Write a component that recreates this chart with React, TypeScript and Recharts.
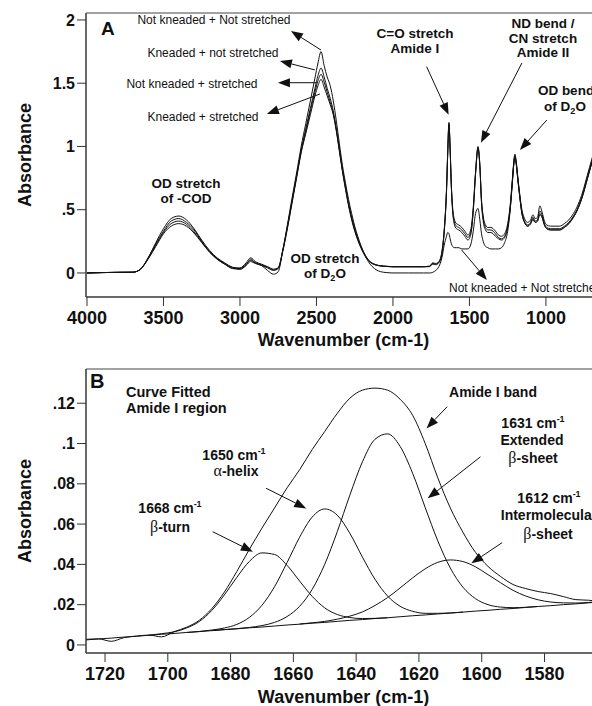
import React from "react";
import { LineChart, Line, XAxis, YAxis, ReferenceLine, ReferenceArea } from "recharts";

const FONT = "'Liberation Sans', Arial, Helvetica, sans-serif";
const GREEK = "'Liberation Serif', 'DejaVu Serif', serif";
const INK = "#111";

// ---- panel A: full spectra (cm-1, descending) ----
const wavenumbers = [
  4000, 3900, 3800, 3700, 3650, 3600, 3550, 3500, 3450, 3400, 3350, 3300, 3250, 3200, 3150, 3100, 3050,
  3000, 2960, 2930, 2900, 2860, 2820, 2780, 2750,
  2720, 2690, 2660, 2630, 2600, 2570, 2540, 2510, 2490, 2470, 2450, 2430, 2410, 2390, 2370, 2350, 2330, 2310, 2290, 2270,
  2250, 2230, 2210, 2190, 2170, 2150, 2130, 2110, 2080, 2040, 2000,
  1900, 1800, 1760, 1740, 1720, 1700, 1680, 1665, 1650, 1642,
  1634, 1626, 1618, 1610, 1600, 1585, 1570, 1550, 1530, 1510,
  1490, 1475, 1460, 1444, 1432, 1421, 1410, 1395, 1380, 1360,
  1345, 1330, 1310, 1290, 1270, 1250, 1235, 1220, 1210, 1203,
  1195, 1183, 1170, 1157, 1140, 1120, 1100, 1085, 1070, 1055,
  1040, 1025, 1010, 995, 970, 940, 910, 880, 850, 820,
  790, 760, 730, 700, 670, 640,
];

const notKneadedNotStretched = [
  0, 0.003, 0.005, 0.006, 0.03, 0.12, 0.24, 0.35, 0.43, 0.45, 0.42, 0.35, 0.26, 0.18, 0.12, 0.08, 0.045,
  0.03, 0.06, 0.11, 0.08, 0.06, 0.02, -0.01, 0.01,
  0.18, 0.38, 0.59, 0.79, 1.0, 1.18, 1.36, 1.54, 1.66, 1.75, 1.64, 1.55, 1.48, 1.36, 1.2, 1.02, 0.85, 0.71, 0.58, 0.47,
  0.37, 0.29, 0.22, 0.16, 0.11, 0.07, 0.045, 0.025, 0.01, 0.003, 0,
  0, 0, 0, 0.005, 0.02, 0.05, 0.12, 0.22, 0.29, 0.32,
  0.31, 0.27, 0.23, 0.21, 0.2, 0.2, 0.2, 0.19, 0.19, 0.19,
  0.23, 0.33, 0.47, 0.51, 0.42, 0.31, 0.25, 0.21, 0.2, 0.19,
  0.19, 0.19, 0.19, 0.2, 0.24, 0.33, 0.48, 0.7, 0.86, 0.92,
  0.87, 0.73, 0.59, 0.47, 0.4, 0.37, 0.39, 0.42, 0.4, 0.41,
  0.47, 0.44, 0.38, 0.35, 0.34, 0.34, 0.34, 0.36, 0.39, 0.44,
  0.51, 0.61, 0.74, 0.87, 0.99, 1.09,
];

const kneadedNotStretched = [
  0, 0.003, 0.005, 0.006, 0.03, 0.12, 0.23, 0.33, 0.41, 0.43, 0.4, 0.34, 0.25, 0.17, 0.115, 0.075, 0.045,
  0.04, 0.08, 0.12, 0.09, 0.07, 0.05, 0.03, 0.04,
  0.18, 0.37, 0.57, 0.77, 0.97, 1.14, 1.3, 1.46, 1.56, 1.62, 1.55, 1.46, 1.38, 1.28, 1.14, 0.98, 0.82, 0.68, 0.55, 0.44,
  0.35, 0.27, 0.21, 0.16, 0.12, 0.09, 0.075, 0.065, 0.057, 0.053, 0.05,
  0.05, 0.05, 0.055, 0.08, 0.075, 0.09, 0.17, 0.34, 0.66, 0.96,
  1.19, 0.98, 0.69, 0.52, 0.43, 0.39, 0.38, 0.36, 0.33, 0.3,
  0.35, 0.52, 0.8, 1.0, 0.86, 0.58, 0.45, 0.38, 0.36, 0.36,
  0.35, 0.33, 0.3, 0.29, 0.31, 0.39, 0.52, 0.73, 0.88, 0.94,
  0.89, 0.75, 0.61, 0.5, 0.43, 0.4, 0.42, 0.46, 0.43, 0.44,
  0.53, 0.48, 0.41, 0.38, 0.37, 0.37, 0.37, 0.39, 0.42, 0.47,
  0.54, 0.64, 0.77, 0.9, 1.02, 1.12,
];

const notKneadedStretched = [
  0, 0.003, 0.005, 0.006, 0.03, 0.115, 0.22, 0.32, 0.39, 0.41, 0.385, 0.325, 0.245, 0.17, 0.11, 0.07, 0.04,
  0.035, 0.07, 0.1, 0.08, 0.065, 0.045, 0.025, 0.04,
  0.18, 0.36, 0.56, 0.76, 0.96, 1.12, 1.28, 1.43, 1.52, 1.57, 1.51, 1.43, 1.35, 1.26, 1.13, 0.97, 0.81, 0.67, 0.54, 0.43,
  0.34, 0.265, 0.205, 0.155, 0.115, 0.088, 0.072, 0.063, 0.056, 0.052, 0.05,
  0.05, 0.05, 0.052, 0.075, 0.07, 0.085, 0.16, 0.33, 0.65, 0.95,
  1.18, 0.97, 0.68, 0.5, 0.41, 0.37, 0.36, 0.34, 0.31, 0.28,
  0.33, 0.5, 0.79, 0.99, 0.85, 0.56, 0.43, 0.36, 0.34, 0.34,
  0.33, 0.31, 0.28, 0.27, 0.29, 0.37, 0.5, 0.72, 0.87, 0.93,
  0.88, 0.74, 0.6, 0.48, 0.41, 0.38, 0.4, 0.44, 0.41, 0.42,
  0.49, 0.46, 0.39, 0.36, 0.35, 0.35, 0.35, 0.37, 0.4, 0.45,
  0.52, 0.62, 0.75, 0.88, 1.0, 1.1,
];

const kneadedStretched = [
  0, 0.003, 0.005, 0.006, 0.03, 0.11, 0.21, 0.31, 0.37, 0.39, 0.37, 0.315, 0.24, 0.165, 0.11, 0.07, 0.035,
  0.03, 0.06, 0.09, 0.075, 0.06, 0.04, 0.02, 0.035,
  0.17, 0.35, 0.55, 0.75, 0.95, 1.1, 1.25, 1.4, 1.48, 1.53, 1.47, 1.4, 1.33, 1.25, 1.12, 0.96, 0.8, 0.66, 0.53, 0.42,
  0.33, 0.26, 0.2, 0.15, 0.11, 0.085, 0.07, 0.062, 0.055, 0.051, 0.048,
  0.048, 0.048, 0.05, 0.07, 0.065, 0.08, 0.15, 0.32, 0.64, 0.94,
  1.17, 0.96, 0.67, 0.49, 0.39, 0.35, 0.34, 0.32, 0.29, 0.26,
  0.31, 0.49, 0.78, 0.98, 0.84, 0.55, 0.41, 0.34, 0.32, 0.32,
  0.31, 0.29, 0.27, 0.26, 0.28, 0.36, 0.49, 0.71, 0.86, 0.92,
  0.87, 0.73, 0.59, 0.47, 0.4, 0.37, 0.39, 0.43, 0.4, 0.41,
  0.46, 0.44, 0.38, 0.35, 0.34, 0.34, 0.34, 0.36, 0.39, 0.44,
  0.51, 0.61, 0.74, 0.87, 0.99, 1.09,
];

const wnTicksA = [4000, 3500, 3000, 2500, 2000, 1500, 1000];
const absTicksA = [0, 0.5, 1, 1.5, 2];

// arrows in panel A, [wavenumber, absorbance] tail -> head
const arrowsA = [
  { from: [2471, 1.763], to: [2667, 1.913] },
  { from: [2510, 1.605], to: [2739, 1.676] },
  { from: [2499, 1.504], to: [2752, 1.504] },
  { from: [2477, 1.415], to: [2824, 1.257] },
  { from: [1780, 1.631], to: [1636, 1.25] },
  { from: [1157, 1.66], to: [1425, 1.03] },
  { from: [994, 1.209], to: [1170, 0.972] },
  { from: [1551, 0.182], to: [1386, -0.055] },
];

// ---- panel B: curve-fitted amide I region ----
const wavenumbersB = [
  1726, 1722, 1718, 1714, 1710, 1706, 1702, 1698, 1694, 1690, 1686, 1682, 1678, 1674,
  1670, 1666, 1662, 1658, 1654, 1650, 1646, 1642, 1638, 1634, 1630, 1626, 1622, 1618,
  1614, 1610, 1606, 1602, 1598, 1594, 1590, 1586, 1582, 1578, 1574, 1570, 1566, 1562,
];

const fitBaseline = [
  0.0025, 0.003, 0.0034, 0.0039, 0.0043, 0.0048, 0.0053, 0.0057, 0.0062, 0.0066, 0.0071, 0.0076, 0.008, 0.0085,
  0.0089, 0.0094, 0.0099, 0.0103, 0.0108, 0.0112, 0.0117, 0.0122, 0.0126, 0.0131, 0.0135, 0.014, 0.0145, 0.0149,
  0.0154, 0.0158, 0.0163, 0.0168, 0.0172, 0.0177, 0.0181, 0.0186, 0.0191, 0.0195, 0.02, 0.0204, 0.0209, 0.0214,
];

const betaTurn = [
  null, null, null, null, null, 0.0048, 0.0056, 0.0065, 0.0084, 0.0116, 0.0171, 0.0248, 0.0336, 0.0415,
  0.0457, 0.0449, 0.0395, 0.0317, 0.0241, 0.0184, 0.0151, 0.0136, 0.0131, 0.0132, 0.0135, null, null, null,
  null, null, null, null, null, null, null, null, null, null, null, null, null, null,
];

const alphaHelix = [
  null, null, null, null, null, null, null, null, 0.0062, 0.0067, 0.0074, 0.0084, 0.0102, 0.0137,
  0.0197, 0.0289, 0.0409, 0.0535, 0.0635, 0.0675, 0.0644, 0.0554, 0.0436, 0.0326, 0.0243, 0.0192, 0.0167, 0.0157,
  0.0157, 0.0159, 0.0163, null, null, null, null, null, null, null, null, null, null, null,
];

const extendedSheet = [
  null, null, null, null, null, null, null, null, null, null, 0.0071, 0.0076, 0.0081, 0.0087,
  0.0096, 0.0112, 0.0141, 0.0192, 0.0276, 0.0401, 0.0563, 0.0744, 0.0909, 0.1021, 0.1048, 0.0986, 0.0852, 0.0682,
  0.0517, 0.0382, 0.0287, 0.023, 0.02, 0.0188, 0.0185, 0.0187, 0.0191, null, null, null, null, null,
];

const interSheet = [
  null, null, null, null, null, null, null, null, null, null, null, null, null, null,
  null, null, null, 0.0104, 0.011, 0.0117, 0.0128, 0.0143, 0.0164, 0.0196, 0.0235, 0.0283, 0.0333, 0.0378,
  0.041, 0.0422, 0.0414, 0.0388, 0.0349, 0.0309, 0.0271, 0.0243, 0.0224, 0.0213, 0.0209, 0.0208, 0.0211, 0.0215,
];

const amideBand = [
  0.0028, 0.003, 0.0018, 0.0036, 0.0044, 0.0049, 0.004, 0.0066, 0.0088, 0.0122, 0.018, 0.0262, 0.0365, 0.0475,
  0.058, 0.068, 0.078, 0.087, 0.097, 0.106, 0.115, 0.1225, 0.1265, 0.1275, 0.1265, 0.122, 0.114, 0.1,
  0.083, 0.068, 0.056, 0.046, 0.039, 0.034, 0.03, 0.028, 0.0265, 0.0255, 0.024, 0.0225, 0.0222, 0.0216,
];

const wnTicksB = [1720, 1700, 1680, 1660, 1640, 1620, 1600, 1580];
const absTicksB = [0, 0.02, 0.04, 0.06, 0.08, 0.1, 0.12];

const arrowsB = [
  { from: [1668.7, 0.0778], to: [1655.9, 0.0678] },
  { from: [1685.7, 0.0562], to: [1672.9, 0.0463] },
  { from: [1611, 0.1183], to: [1617.6, 0.1075] },
  { from: [1600.4, 0.0934], to: [1617.2, 0.0728] },
  { from: [1593.5, 0.0508], to: [1603.3, 0.0405] },
];

const rowsA = wavenumbers.map((wn, i) => ({
  wn,
  nn: notKneadedNotStretched[i],
  kn: kneadedNotStretched[i],
  ns: notKneadedStretched[i],
  ks: kneadedStretched[i],
}));

const rowsB = wavenumbersB.map((wn, i) => ({
  wn,
  base: fitBaseline[i],
  turn: betaTurn[i],
  helix: alphaHelix[i],
  ext: extendedSheet[i],
  inter: interSheet[i],
  band: amideBand[i],
}));

const fmtAbs = (v: number) => (v === 0 ? "0" : String(v).replace(/^0\./, "."));

const Arrow = (props: any) => {
  const { x1, y1, x2, y2 } = props;
  const a = Math.atan2(y2 - y1, x2 - x1);
  const len = 12;
  const half = 4.5;
  const bx = x2 - len * Math.cos(a);
  const by = y2 - len * Math.sin(a);
  const sx = half * Math.sin(a);
  const sy = half * Math.cos(a);
  return (
    <g>
      <line x1={x1} y1={y1} x2={bx} y2={by} stroke={INK} strokeWidth={1} />
      <polygon points={`${x2},${y2} ${bx + sx},${by - sy} ${bx - sx},${by + sy}`} fill={INK} />
    </g>
  );
};

const tickX = { fontSize: 18, fontWeight: 700, fill: INK, fontFamily: FONT };
const tickY = { fontSize: 16, fontWeight: 700, fill: INK, fontFamily: FONT };
const axisTitle = { fill: INK, fontSize: 18, fontWeight: 700, fontFamily: FONT };

function Sup() {
  return (
    <tspan fontSize={9} dy={-6}>
      -1
    </tspan>
  );
}

function Overlay() {
  const bold = { fontFamily: FONT, fontWeight: 700, fill: INK } as const;
  const plain = { fontFamily: FONT, fontWeight: 400, fill: INK, fontSize: 12 } as const;
  return (
    <svg
      width={592}
      height={706}
      style={{ position: "absolute", left: 0, top: 0, pointerEvents: "none" }}
    >
      {/* panel A */}
      <text x={101} y={35} fontSize={19} {...bold}>A</text>
      <text x={214} y={24} textAnchor="middle" {...plain}>Not kneaded + Not stretched</text>
      <text x={213} y={57} textAnchor="middle" {...plain}>Kneaded + not stretched</text>
      <text x={192} y={88} textAnchor="middle" {...plain}>Not kneaded + stretched</text>
      <text x={203} y={121} textAnchor="middle" {...plain}>Kneaded + stretched</text>
      <text x={449} y={292} {...plain}>Not kneaded + Not stretched</text>

      <g fontSize={13.5} textAnchor="middle" {...bold}>
        <text x={186} y={188}>OD stretch</text>
        <text x={186} y={203}>of -COD</text>
        <text x={325} y={263}>OD stretch</text>
        <text x={325} y={278}>
          of D<tspan fontSize={9} dy={3}>2</tspan>
          <tspan dy={-3}>O</tspan>
        </text>
        <text x={415} y={38}>C=O stretch</text>
        <text x={415} y={53}>Amide I</text>
        <text x={543} y={28}>ND bend /</text>
        <text x={543} y={43}>CN stretch</text>
        <text x={543} y={57}>Amide II</text>
        <text x={566} y={95}>OD bend</text>
        <text x={565} y={111}>
          of D<tspan fontSize={9} dy={3}>2</tspan>
          <tspan dy={-3}>O</tspan>
        </text>
      </g>

      {/* panel B */}
      <text x={90} y={388} fontSize={20} {...bold}>B</text>
      <g fontSize={14.5} {...bold}>
        <text x={126} y={397}>Curve Fitted</text>
        <text x={126} y={413}>Amide I region</text>
      </g>
      <g fontSize={14} textAnchor="middle" {...bold}>
        <text x={170} y={513}>
          1668 cm<Sup />
        </text>
        <text x={170} y={532}>
          <tspan fontFamily={GREEK} fontWeight={400} fontSize={16}>β</tspan>-turn
        </text>
        <text x={234} y={460}>
          1650 cm<Sup />
        </text>
        <text x={236} y={476}>
          <tspan fontFamily={GREEK} fontWeight={400} fontSize={16}>α</tspan>-helix
        </text>
        <text x={493} y={397}>Amide I band</text>
        <text x={533} y={428}>
          1631 cm<Sup />
        </text>
        <text x={532} y={445}>Extended</text>
        <text x={533} y={463}>
          <tspan fontFamily={GREEK} fontWeight={400} fontSize={16}>β</tspan>-sheet
        </text>
        <text x={549} y={503}>
          1612 cm<Sup />
        </text>
        <text x={549} y={520}>Intermolecular</text>
        <text x={548} y={539}>
          <tspan fontFamily={GREEK} fontWeight={400} fontSize={16}>β</tspan>-sheet
        </text>
      </g>
    </svg>
  );
}

export default function App() {
  return (
    <div
      style={{
        position: "absolute",
        left: 0,
        top: 0,
        width: 592,
        height: 706,
        overflow: "hidden",
        background: "#fff",
      }}
    >
      <div style={{ position: "absolute", left: 0, top: 0 }}>
        <LineChart width={612} height={353} data={rowsA} margin={{ top: 13, right: 11, bottom: 0, left: 0 }}>
          <XAxis
            dataKey="wn"
            type="number"
            domain={[640, 4006.5]}
            reversed
            allowDataOverflow
            ticks={wnTicksA}
            tick={tickX}
            tickSize={9}
            tickMargin={5}
            height={56}
            axisLine={{ stroke: "#333" }}
            tickLine={{ stroke: "#333" }}
            label={{ value: "Wavenumber (cm-1)", position: "insideBottom", offset: 7, ...axisTitle }}
          />
          <YAxis
            type="number"
            domain={[-0.19, 2.055]}
            allowDataOverflow
            ticks={absTicksA}
            tickFormatter={fmtAbs}
            tick={tickY}
            tickSize={9}
            tickMargin={2}
            width={86}
            axisLine={{ stroke: "#333" }}
            tickLine={{ stroke: "#333" }}
            label={{
              value: "Absorbance",
              angle: -90,
              position: "insideLeft",
              offset: 25,
              style: { textAnchor: "middle" },
              ...axisTitle,
            }}
          />
          <ReferenceArea x1={640} x2={4006.5} y1={-0.19} y2={2.055} fill="none" stroke="#444" ifOverflow="visible" />
          {["nn", "kn", "ns", "ks"].map((k) => (
            <Line
              key={k}
              type="monotone"
              dataKey={k}
              stroke={INK}
              strokeWidth={1}
              dot={false}
              isAnimationActive={false}
            />
          ))}
          {arrowsA.map((a, i) => (
            <ReferenceLine
              key={i}
              segment={[
                { x: a.from[0], y: a.from[1] },
                { x: a.to[0], y: a.to[1] },
              ]}
              ifOverflow="visible"
              shape={Arrow}
            />
          ))}
        </LineChart>
      </div>

      <div style={{ position: "absolute", left: 0, top: 356 }}>
        <LineChart width={612} height={353} data={rowsB} margin={{ top: 13, right: 11, bottom: 0, left: 0 }}>
          <XAxis
            dataKey="wn"
            type="number"
            domain={[1562, 1726.06]}
            reversed
            allowDataOverflow
            ticks={wnTicksB}
            tick={tickX}
            tickSize={9}
            tickMargin={5}
            height={56}
            axisLine={{ stroke: "#333" }}
            tickLine={{ stroke: "#333" }}
            label={{ value: "Wavenumber (cm-1)", position: "insideBottom", offset: 6, ...axisTitle }}
          />
          <YAxis
            type="number"
            domain={[-0.004, 0.137]}
            allowDataOverflow
            ticks={absTicksB}
            tickFormatter={fmtAbs}
            tick={tickY}
            tickSize={9}
            tickMargin={2}
            width={86}
            axisLine={{ stroke: "#333" }}
            tickLine={{ stroke: "#333" }}
            label={{
              value: "Absorbance",
              angle: -90,
              position: "insideLeft",
              offset: 25,
              style: { textAnchor: "middle" },
              ...axisTitle,
            }}
          />
          <ReferenceArea x1={1562} x2={1726.06} y1={-0.004} y2={0.137} fill="none" stroke="#444" ifOverflow="visible" />
          {["base", "turn", "helix", "ext", "inter", "band"].map((k) => (
            <Line
              key={k}
              type="monotone"
              dataKey={k}
              stroke={INK}
              strokeWidth={1}
              dot={false}
              isAnimationActive={false}
            />
          ))}
          {arrowsB.map((a, i) => (
            <ReferenceLine
              key={i}
              segment={[
                { x: a.from[0], y: a.from[1] },
                { x: a.to[0], y: a.to[1] },
              ]}
              ifOverflow="visible"
              shape={Arrow}
            />
          ))}
        </LineChart>
      </div>

      <Overlay />
    </div>
  );
}
